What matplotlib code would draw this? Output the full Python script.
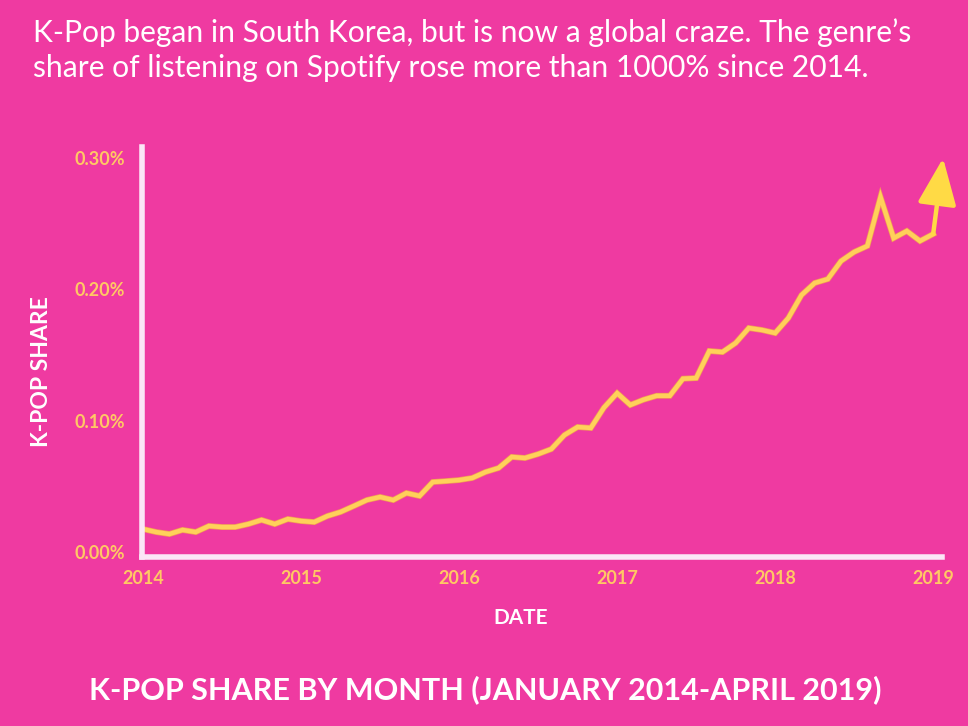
#!/usr/bin/env python3

import numpy as np
import matplotlib
matplotlib.use('Agg')
import matplotlib.pyplot as plt
import matplotlib.patheffects as pe

BG = '#EF3AA1'
LINE = '#FFD05A'
TICK = '#FFC864'

# K-pop share of Spotify listening (%), monthly from Jan 2014
months = list(range(61))
share = [0.0175, 0.0152, 0.0137, 0.0168, 0.0152, 0.0198, 0.0190, 0.0190, 0.0213, 0.0244,
         0.0213, 0.0251, 0.0236, 0.0228, 0.0274, 0.0305, 0.0350, 0.0396, 0.0419, 0.0396,
         0.0449, 0.0427, 0.0533, 0.0540, 0.0548, 0.0564, 0.0609, 0.0640, 0.0724, 0.0716,
         0.0746, 0.0784, 0.0891, 0.0952, 0.0945, 0.1100, 0.1210, 0.1120, 0.1160, 0.1190,
         0.1190, 0.1320, 0.1325, 0.1531, 0.1523, 0.1592, 0.1706, 0.1691, 0.1668, 0.1782,
         0.1957, 0.2049, 0.2079, 0.2216, 0.2285, 0.2331, 0.2704, 0.2391, 0.2445, 0.2369,
         0.2422]
arrow_tip = (60.75, 0.300)

year_pos = [0, 12, 24, 36, 48, 60]
year_labels = ['2014', '2015', '2016', '2017', '2018', '2019']
y_ticks = [0.0, 0.1, 0.2, 0.3]
y_labels = ['0.00%', '0.10%', '0.20%', '0.30%']

FONT = 'Lato'

f = plt.figure(figsize=(9.68, 7.26), dpi=100, facecolor=BG)
ax = f.add_axes([142 / 968, 1 - 557 / 726, 800 / 968, 410 / 726])
ax.set_facecolor(BG)

ax.plot(months, share, color=LINE, lw=3.2, solid_joinstyle='miter',
        path_effects=[pe.Stroke(linewidth=4.2, foreground='#F29A55'), pe.Normal()])
ax.annotate('', xy=arrow_tip, xytext=(months[-1], share[-1]), annotation_clip=False,
            arrowprops=dict(arrowstyle='-|>,head_length=1.2,head_width=0.5', color='#FFDA45',
                            lw=3.2, mutation_scale=24, shrinkA=0, shrinkB=0))

ax.set_xlim(-0.08, 60.67)
ax.set_ylim(-0.0038, 0.3085)

for s in ['top', 'right']:
    ax.spines[s].set_visible(False)
for s in ['left', 'bottom']:
    ax.spines[s].set_color('#FBE6F6')
    ax.spines[s].set_linewidth(4)

ax.set_xticks(year_pos)
ax.set_xticklabels(year_labels)
ax.set_yticks(y_ticks)
ax.set_yticklabels(y_labels)
ax.tick_params(length=0, colors=TICK, labelsize=13)
ax.tick_params(axis='y', pad=12)
ax.tick_params(axis='x', pad=9)
for lab in ax.get_xticklabels() + ax.get_yticklabels():
    lab.set_fontfamily(FONT)
    lab.set_fontweight('bold')

f.text(42 / 968, 1 - 372 / 726, 'K-POP SHARE', rotation=90, color='white', fontsize=16.5,
       fontweight='bold', family=FONT, ha='center', va='center')
f.text(521 / 968, 1 - 618 / 726, 'DATE', color='white', fontsize=15,
       fontweight='bold', family=FONT, ha='center', va='center')

f.text(33 / 968, 1 - 50 / 726,
       "K-Pop began in South Korea, but is now a global craze. The genre\u2019s\n"
       "share of listening on Spotify rose more than 1000% since 2014.",
       color='white', fontsize=21.6, family=FONT, ha='left', va='center', linespacing=1.3)

f.text(485 / 968, 1 - 690 / 726, 'K-POP SHARE BY MONTH (JANUARY 2014-APRIL 2019)',
       color='white', fontsize=22, fontweight='bold', family=FONT, ha='center', va='center')

f.savefig('out.png', dpi=100, facecolor=BG)
plt.close(f)
